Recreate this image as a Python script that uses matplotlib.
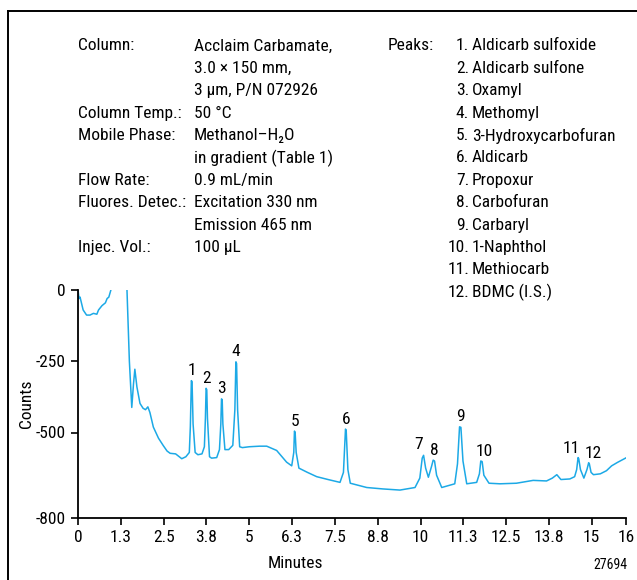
import numpy as np
import matplotlib
matplotlib.use("Agg")
import matplotlib.pyplot as plt
from matplotlib.lines import Line2D

plt.rcParams['font.family'] = ['Roboto Condensed', 'DejaVu Sans']

# chromatogram trace (minutes, counts)
times = [0.0, 0.03, 0.06, 0.1, 0.15, 0.25, 0.35, 0.45, 0.55, 0.6, 0.7, 0.8, 0.85, 0.9, 0.96,
         1.05, 1.35, 1.43, 1.5, 1.57, 1.62, 1.66, 1.72, 1.81, 1.9, 1.97, 2.04, 2.1, 2.2, 2.35,
         2.49, 2.6, 2.69, 2.85, 3.03, 3.15, 3.25, 3.28, 3.31, 3.33, 3.36, 3.42, 3.5, 3.62, 3.69, 3.72,
         3.74, 3.76, 3.78, 3.84, 3.9, 4.05, 4.13, 4.17, 4.19, 4.21, 4.23, 4.29, 4.4, 4.52, 4.58,
         4.61, 4.63, 4.66, 4.72, 4.8, 5.0, 5.3, 5.51, 5.8, 6.09, 6.24, 6.3, 6.32, 6.34, 6.37, 6.45,
         6.7, 6.97, 7.3, 7.65, 7.75, 7.81, 7.83, 7.88, 7.95, 8.43, 8.9, 9.4, 9.84, 9.98, 10.05,
         10.09, 10.15, 10.23, 10.32, 10.37, 10.41, 10.47, 10.62, 11.0, 11.08, 11.14, 11.18, 11.24,
         11.35, 11.64, 11.72, 11.76, 11.8, 11.85, 12.0, 12.32, 12.8, 13.29, 13.68, 13.85, 13.98,
         14.1, 14.36, 14.5, 14.56, 14.6, 14.62, 14.67, 14.77, 14.86, 14.91, 14.93, 14.98, 15.05,
         15.25, 15.43, 15.58, 15.75, 16.0]
counts = [0, -30, -25, -45, -70, -88, -88, -82, -85, -70, -55, -45, -30, -25, 0,
          200, 200, 0, -250, -412, -330, -278, -340, -398, -415, -420, -410, -430, -481, -520,
          -546, -565, -573, -575, -592, -585, -570, -480, -318, -322, -470, -570, -578, -575, -550, -450,
          -345, -350, -450, -585, -590, -588, -560, -470, -382, -385, -470, -560, -560, -545, -420,
          -252, -258, -420, -550, -553, -550, -548, -548, -563, -604, -617, -570, -495, -500, -570, -625,
          -640, -655, -665, -675, -640, -488, -492, -630, -678, -693, -698, -702, -693, -660, -590,
          -580, -625, -657, -620, -597, -600, -650, -693, -680, -610, -480, -482, -600,
          -680, -675, -645, -600, -602, -650, -678, -680, -678, -668, -670, -660, -648,
          -665, -663, -655, -630, -588, -592, -630, -660, -630, -606, -610, -640, -648,
          -645, -634, -617, -605, -589]

peak_nums = ['1', '2', '3', '4', '5', '6', '7', '8', '9', '10', '11', '12']
peak_times = [3.32, 3.75, 4.20, 4.62, 6.33, 7.82, 10.07, 10.39, 11.16, 11.78, 14.61, 14.92]
peak_apex = [-313, -340, -377, -248, -491, -484, -575, -593, -474, -597, -586, -604]
label_dx = [0, 0, 0, 0, 0, 0, -3, 0, 0, 2, -5, 3]

xticks = [0, 1.25, 2.5, 3.75, 5, 6.25, 7.5, 8.75, 10, 11.25, 12.5, 13.75, 15, 16]
xticklabels = ['0', '1.3', '2.5', '3.8', '5', '6.3', '7.5', '8.8', '10', '11.3', '12.5', '13.8', '15', '16']
yticks = [0, -250, -500, -800]
yticklabels = ['0', '-250', '-500', '-800']

cond_labels = ['Column:', '', '', 'Column Temp.:', 'Mobile Phase:', '', 'Flow Rate:',
               'Fluores. Detec.:', '', 'Injec. Vol.:']
cond_values = ['Acclaim Carbamate,', '3.0 \u00d7 150 mm,', '3 \u00b5m, P/N 072926', '50 \u00b0C',
               'Methanol\u2013H\u2082O', 'in gradient (Table 1)', '0.9 mL/min',
               'Excitation 330 nm', 'Emission 465 nm', '100 \u00b5L']
peak_names = ['Aldicarb sulfoxide', 'Aldicarb sulfone', 'Oxamyl', 'Methomyl',
              '3-Hydroxycarbofuran', 'Aldicarb', 'Propoxur', 'Carbofuran', 'Carbaryl',
              '1-Naphthol', 'Methiocarb', 'BDMC (I.S.)']

W, H = 637, 580
fs = 12.5
fig = plt.figure(figsize=(W / 100, H / 100), dpi=100)
ax = fig.add_axes([78 / W, 1 - 518 / H, (626 - 78) / W, (518 - 290) / H])

ax.plot(times, counts, color='#1ca9e6', lw=1.1)
ax.set_xlim(0, 16)
ax.set_ylim(-800, 0)

for n, t, a, dx in zip(peak_nums, peak_times, peak_apex, label_dx):
    ax.annotate(n, (t, a), xytext=(dx, 1), textcoords='offset points',
                ha='center', va='bottom', fontsize=fs)

ax.set_xticks(xticks)
ax.set_xticklabels(xticklabels)
ax.set_yticks(yticks)
ax.set_yticklabels(yticklabels)
ax.tick_params(labelsize=fs, length=5, width=1.2, pad=4)
ax.spines['top'].set_visible(False)
ax.spines['right'].set_visible(False)
ax.spines['left'].set_linewidth(1.3)
ax.spines['bottom'].set_linewidth(1.3)
ax.set_xlabel('Minutes', fontsize=fs)
ax.set_ylabel('Counts', fontsize=fs)
ax.xaxis.set_label_coords((295 - 78) / 548, (518 - 563) / 228)
ax.yaxis.set_label_coords((27 - 78) / 548, 0.5)
ax.xaxis.label.set_va('center')
ax.yaxis.label.set_va('center')

# outer frame (left and top edges only)
fig.add_artist(Line2D([8 / W, 8 / W], [0, 1 - 11 / H], color='black', lw=1.4, transform=fig.transFigure))
fig.add_artist(Line2D([8 / W, 1], [1 - 11 / H, 1 - 11 / H], color='black', lw=1.4, transform=fig.transFigure))

# conditions block
step = 22.4
for i, (lab, val) in enumerate(zip(cond_labels, cond_values)):
    y = 1 - (46 + i * step) / H
    if lab:
        fig.text(78 / W, y, lab, fontsize=fs, va='center', ha='left')
    fig.text(194 / W, y, val, fontsize=fs, va='center', ha='left')

fig.text(388 / W, 1 - 46 / H, 'Peaks:', fontsize=fs, va='center', ha='left')
for i, name in enumerate(peak_names):
    y = 1 - (46 + i * step) / H
    fig.text(469 / W, y, f'{i + 1}.', fontsize=fs, va='center', ha='right')
    fig.text(472 / W, y, name, fontsize=fs, va='center', ha='left')

fig.text(627 / W, 1 - 565 / H, '27694', fontsize=10, va='center', ha='right')

fig.savefig('out.png', dpi=100)
